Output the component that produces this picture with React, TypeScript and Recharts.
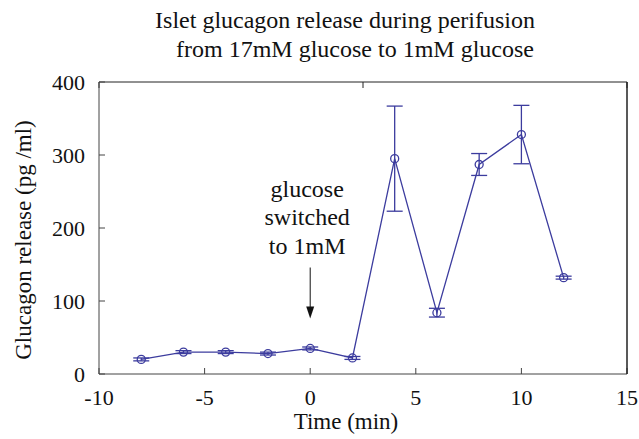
import { LineChart, Line, XAxis, YAxis, ErrorBar, ReferenceDot } from "recharts";

const times = [-8, -6, -4, -2, 0, 2, 4, 6, 8, 10, 12];
const glucagon = [20, 30, 30, 28, 35, 22, 295, 84, 287, 328, 132];
const errors = [2, 2, 2, 2, 2, 2, 72, 6, 15, 40, 2];

const xTicks = [-10, -5, 0, 5, 10, 15];
const xTopTicks = [-5, 0, 5, 10];
const yTicks = [0, 100, 200, 300, 400];
const yRightTicks = [1, 2, 3, 4, 5, 6];
const titleLines = ["Islet glucagon release during perifusion", "from 17mM glucose to 1mM glucose"];
const noteLines = ["glucose", "switched", "to 1mM"];

const BLUE = "#3c3c9e";
const INK = "#111";
const FONT = "'Liberation Serif', 'Times New Roman', serif";

const data = times.map((t, i) => ({ t, v: glucagon[i], err: errors[i] }));

// y-axis title drawn relative to the axis viewBox
const YLabel = (props: any) => {
  const vb = props.viewBox || {};
  const cx = vb.x + 23;
  const cy = vb.y + vb.height / 2 + 12;
  return (
    <text x={cx} y={cy} transform={`rotate(-90 ${cx} ${cy})`} textAnchor="middle" dominantBaseline="central" style={{ fontFamily: FONT, fontSize: 23, fill: INK }}>
      Glucagon release (pg /ml)
    </text>
  );
};

const XLabel = (props: any) => {
  const vb = props.viewBox || {};
  return (
    <text x={vb.x + vb.width / 2 - 17} y={vb.y + 55} textAnchor="middle" style={{ fontFamily: FONT, fontSize: 23, fill: INK }}>
      Time (min)
    </text>
  );
};

// arrow + note, anchored at the arrow tip
const Note = (props: any) => {
  const { cx, cy } = props;
  return (
    <g>
      <line x1={cx} y1={cy - 51} x2={cx} y2={cy - 10} stroke={INK} strokeWidth={1} />
      <path d={`M${cx - 4},${cy - 12} L${cx + 4},${cy - 12} L${cx},${cy} Z`} fill={INK} />
      {noteLines.map((s, i) => (
        <text key={s} x={cx - 3} y={cy - 122 + i * 28.5} textAnchor="middle" style={{ fontFamily: FONT, fontSize: 24, fill: INK }}>
          {s}
        </text>
      ))}
    </g>
  );
};

const tickStyle = { fontFamily: FONT, fontSize: 22, fill: INK };
const noLabel = () => <g />;

export default function App() {
  return (
    <div style={{ position: "absolute", left: 0, top: 0, width: 639, height: 439, background: "#fff" }}>
      <svg width={639} height={70} style={{ position: "absolute", left: 0, top: 0 }}>
        {titleLines.map((s, i) => (
          <text key={s} x={i === 0 ? 345 : 355} y={28 + i * 29} textAnchor="middle" style={{ fontFamily: FONT, fontSize: 24, fill: INK }}>
            {s}
          </text>
        ))}
      </svg>
      <LineChart width={639} height={439} data={data} margin={{ top: 81, right: 11, bottom: 0, left: 0 }}>
        <XAxis
          dataKey="t"
          type="number"
          domain={[-10, 15]}
          ticks={xTicks}
          interval={0}
          height={65}
          tickSize={-6}
          tickMargin={21}
          tick={tickStyle}
          stroke="#444"
          label={<XLabel />}
        />
        <XAxis xAxisId="top" orientation="top" type="number" domain={[-10, 15]} ticks={xTopTicks} interval={0} height={1} tickSize={-6} tick={noLabel} stroke="#222" />
        <YAxis
          type="number"
          domain={[0, 400]}
          ticks={yTicks}
          interval={0}
          width={99}
          tickSize={-6}
          tickMargin={20}
          tick={tickStyle}
          stroke="#444"
          label={<YLabel />}
        />
        <YAxis yAxisId="r" orientation="right" type="number" domain={[0, 7]} ticks={yRightTicks} interval={0} width={1} tickSize={-6} tick={noLabel} stroke="#222" strokeWidth={1.5} />
        <ReferenceDot x={0} y={76} shape={<Note />} />
        <Line
          type="linear"
          dataKey="v"
          stroke={BLUE}
          strokeWidth={1.3}
          dot={{ r: 4, fill: "none", stroke: BLUE, strokeWidth: 1.3 }}
          isAnimationActive={false}
        >
          <ErrorBar dataKey="err" width={8} stroke={BLUE} strokeWidth={1.3} direction="y" isAnimationActive={false} />
        </Line>
      </LineChart>
    </div>
  );
}
